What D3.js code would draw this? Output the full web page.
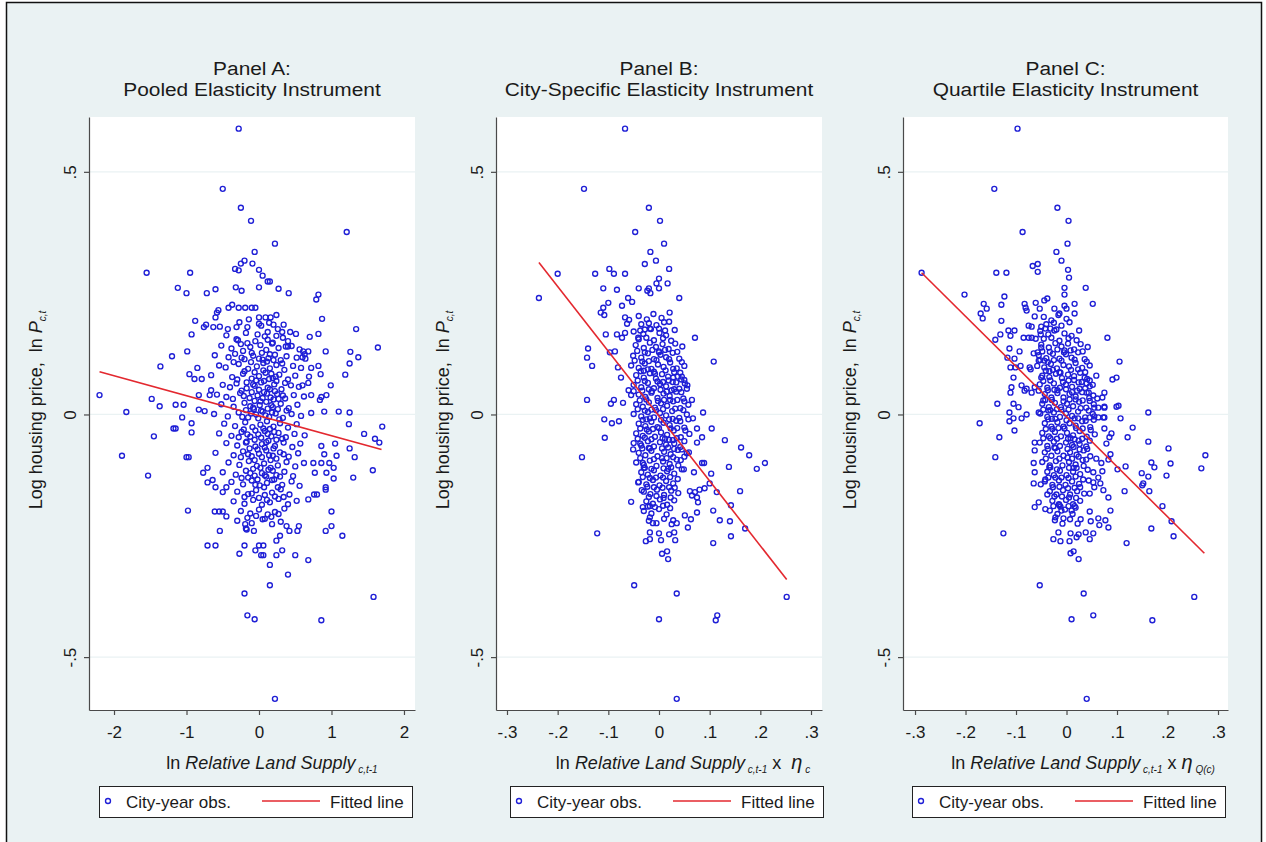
<!DOCTYPE html>
<html>
<head>
<meta charset="utf-8">
<script src="https://cdn.jsdelivr.net/npm/d3@7"></script>
<style>
body { margin: 0; background: #ffffff; }
svg text { font-family: "Liberation Sans", Arial, sans-serif; fill: #1a1a1a; }
</style>
</head>
<body>
<script>
var width = 1266;
var height = 842;

// tick values and labels
var yTicks = [-0.5, 0, 0.5];
var yTickLabels = ["-.5", "0", ".5"];
var xTicksA = [-2, -1, 0, 1, 2];
var xTickLabelsA = ["-2", "-1", "0", "1", "2"];
var xTicksBC = [-0.3, -0.2, -0.1, 0, 0.1, 0.2, 0.3];
var xTickLabelsBC = ["-.3", "-.2", "-.1", "0", ".1", ".2", ".3"];

var titleA = ["Panel A:", "Pooled Elasticity Instrument"];
var titleB = ["Panel B:", "City-Specific Elasticity Instrument"];
var titleC = ["Panel C:", "Quartile Elasticity Instrument"];
var legendLabels = ["City-year obs.", "Fitted line"];

// fitted lines: [x, ln P] at both ends
var fitA = [[-2.2, 0.088], [1.69, -0.072]];
var fitB = [[-0.237, 0.313], [0.252, -0.34]];
var fitC = [[-0.287, 0.292], [0.273, -0.286]];

// city-year observations, panel A: [ln relative land supply, ln P]
var obsA = [
 [-0.28,0.589],[-0.50,0.465],[-0.25,0.426],[-0.11,0.399],[1.21,0.376],[0.22,0.352],[-0.06,0.335],
 [-1.55,0.292],[-0.95,0.292],[-0.20,0.317],[-0.25,0.311],[-0.09,0.311],[-0.33,0.30],[-0.28,0.297],[0.0,0.298],[0.05,0.286],[0.12,0.274],[0.15,0.274],
 [-1.12,0.261],[-0.6,0.258],[-0.72,0.25],[-0.32,0.262],[-0.24,0.255],[0.0,0.262],[0.27,0.259],[-1.0,0.25],[0.41,0.25],[0.82,0.247],[0.79,0.237],
 [-0.93,0.165],[-0.88,0.193],[-0.76,0.18],[-0.73,0.185],[-0.63,0.18],[-0.54,0.181],[-0.43,0.176],[-0.6,0.2],[-0.58,0.21],[-0.56,0.215],
 [-0.42,0.22],[-0.37,0.226],[-0.28,0.22],[-0.19,0.22],[-0.1,0.22],[-0.05,0.22],[0.0,0.2],[0.09,0.2],[0.16,0.2],[0.24,0.205],
 [0.34,0.185],[0.32,0.17],[0.43,0.17],[0.0,0.187],[0.12,0.17],[0.2,0.185],[-0.16,0.18],[-0.31,0.18],[0.7,0.16],[0.82,0.166],[0.87,0.197],
 [1.34,0.176],[1.64,0.138],[1.26,0.129],[1.37,0.118],[1.25,0.105],[1.19,0.082],[0.92,0.13],[0.99,0.06],
 [-1.2,0.12],[-1.36,0.099],[-0.99,0.13],[-0.85,0.096],[-0.96,0.083],[-0.89,0.073],[-0.79,0.073],
 [-2.2,0.04],[-1.48,0.032],[-1.37,0.017],[-1.15,0.02],[-1.04,0.02],[-1.83,0.005],[-0.83,0.04],[-0.68,0.04],[-0.66,0.05],[-0.83,0.01],[-0.75,0.007],
 [0.61,0.13],[0.68,0.13],[0.6,0.118],[0.64,0.115],[0.72,0.096],[0.82,0.1],[0.85,0.083],[0.68,0.065],[0.6,0.06],[0.72,0.04],[0.86,0.036],[0.93,0.04],[0.84,0.03],
 [0.9,0.006],[1.1,0.006],[1.25,0.004],[0.37,0.14],[0.4,0.14],
 [-1.89,-0.085],[-1.45,-0.045],[-1.53,-0.126],[-1.18,-0.029],[-1.15,-0.029],[-1.06,-0.006],[-0.93,-0.018],[-0.93,-0.037],[-1.0,-0.088],[-0.97,-0.088],[-0.98,-0.198],
 [-0.77,-0.12],[-0.71,-0.14],[-0.64,-0.135],[-0.71,-0.11],[-0.6,-0.15],[-0.5,-0.16],[-0.45,-0.15],[-0.61,-0.2],[-0.55,-0.2],[-0.5,-0.2],[-0.45,-0.21],[-0.54,-0.24],[-0.71,-0.27],[-0.6,-0.27],
 [-0.27,-0.287],[-0.2,-0.27],[-0.18,-0.235],[-0.17,-0.237],[-0.19,-0.226],[-0.07,-0.24],[-0.05,-0.28],[0.0,-0.27],[0.06,-0.27],[0.03,-0.29],[0.06,-0.29],[0.15,-0.31],[0.24,-0.26],[0.24,-0.29],[0.32,-0.28],[0.4,-0.33],[0.5,-0.29],[0.68,-0.3],[0.53,-0.24],[0.42,-0.24],[0.29,-0.25],[0.38,-0.23],[0.55,-0.23],
 [0.15,-0.352],[-0.2,-0.369],[-0.16,-0.414],[-0.06,-0.422],[0.86,-0.424],[1.58,-0.376],[0.22,-0.586],
 [1.0,-0.2],[1.0,-0.23],[0.92,-0.24],[1.15,-0.25],[0.92,-0.15],[0.92,-0.155],[0.8,-0.165],[0.76,-0.165],[0.68,-0.175],[1.03,-0.132],[1.3,-0.13],[0.93,-0.12],[1.03,-0.11],[0.97,-0.1],[1.57,-0.115],[1.32,-0.088],[1.07,-0.085],[0.9,-0.082],[1.25,-0.07],[1.05,-0.06],[0.86,-0.065],[1.45,-0.04],[1.6,-0.05],[1.66,-0.058],[1.7,-0.025],[1.24,-0.02],[0.75,-0.1],[0.77,-0.12],[0.86,-0.1],
 [-0.45,0.163],[-0.31,0.155],[-0.18,0.168],[-0.05,0.151],[0.08,0.161],[0.19,0.148],[0.33,0.158],[0.51,0.166],
 [-0.52,0.142],[-0.38,0.136],[-0.25,0.145],[-0.12,0.139],[0.02,0.143],[0.1,0.133],[0.18,0.146],[0.27,0.137],[0.45,0.141],[0.56,0.134],
 [-0.61,0.122],[-0.42,0.118],[-0.33,0.125],[-0.2,0.114],[-0.08,0.121],[0.04,0.127],[0.13,0.116],[0.22,0.123],[0.3,0.112],[0.38,0.12],[0.52,0.117],[0.63,0.124],
 [-0.55,0.101],[-0.46,0.097],[-0.28,0.104],[-0.15,0.094],[-0.03,0.099],[0.06,0.106],[0.15,0.095],[0.24,0.102],[0.35,0.092],[0.47,0.1],[0.58,0.096],
 [-0.66,0.081],[-0.37,0.077],[-0.22,0.084],[-0.1,0.074],[0.0,0.079],[0.09,0.086],[0.19,0.075],[0.28,0.082],[0.4,0.072],[0.5,0.08],[0.69,0.078],
 [-0.5,0.061],[-0.4,0.056],[-0.31,0.064],[-0.17,0.054],[-0.06,0.059],[0.03,0.066],[0.12,0.055],[0.21,0.062],[0.31,0.052],[0.44,0.06],[0.55,0.057],
 [-0.58,0.041],[-0.45,0.036],[-0.26,0.044],[-0.13,0.034],[-0.02,0.039],[0.07,0.046],[0.16,0.035],[0.25,0.042],[0.36,0.033],[0.48,0.04],[0.62,0.037],
 [-0.52,0.021],[-0.35,0.016],[-0.2,0.024],[-0.08,0.014],[0.01,0.019],[0.1,0.026],[0.19,0.015],[0.3,0.022],[0.41,0.013],[0.53,0.02],
 [-0.62,0.001],[-0.43,-0.004],[-0.28,0.004],[-0.15,-0.006],[-0.04,0.0],[0.05,0.006],[0.14,-0.005],[0.23,0.002],[0.33,-0.007],[0.45,0.001],[0.58,-0.003],[0.72,0.003],
 [-0.48,-0.019],[-0.33,-0.024],[-0.19,-0.016],[-0.09,-0.026],[0.02,-0.021],[0.11,-0.014],[0.2,-0.025],[0.29,-0.018],[0.4,-0.027],[0.52,-0.02],
 [-0.55,-0.039],[-0.38,-0.044],[-0.24,-0.036],[-0.12,-0.046],[-0.01,-0.041],[0.08,-0.034],[0.17,-0.045],[0.27,-0.038],[0.37,-0.047],[0.49,-0.04],[0.63,-0.043],
 [-0.45,-0.059],[-0.3,-0.064],[-0.17,-0.056],[-0.05,-0.066],[0.04,-0.061],[0.13,-0.054],[0.22,-0.065],[0.34,-0.058],[0.46,-0.067],[0.57,-0.06],
 [-0.6,-0.079],[-0.35,-0.084],[-0.22,-0.076],[-0.1,-0.086],[0.0,-0.081],[0.1,-0.074],[0.19,-0.085],[0.29,-0.078],[0.41,-0.087],[0.54,-0.08],
 [-0.42,-0.099],[-0.27,-0.104],[-0.14,-0.096],[-0.03,-0.106],[0.07,-0.101],[0.16,-0.094],[0.26,-0.105],[0.38,-0.098],[0.5,-0.107],[0.62,-0.1],
 [-0.5,-0.119],[-0.32,-0.124],[-0.18,-0.116],[-0.06,-0.126],[0.04,-0.121],[0.13,-0.114],[0.24,-0.125],[0.35,-0.118],[0.47,-0.127],
 [-0.38,-0.139],[-0.22,-0.144],[-0.1,-0.136],[0.01,-0.146],[0.11,-0.141],[0.21,-0.134],[0.32,-0.145],[0.45,-0.138],[0.56,-0.147],
 [-0.3,-0.159],[-0.15,-0.164],[-0.04,-0.156],[0.08,-0.166],[0.18,-0.161],[0.3,-0.154],[0.42,-0.165],
 [-0.35,-0.179],[-0.2,-0.184],[-0.08,-0.176],[0.04,-0.186],[0.15,-0.181],[0.27,-0.174],[0.4,-0.185],[0.52,-0.178],
 [-0.25,-0.199],[-0.12,-0.204],[0.0,-0.196],[0.12,-0.206],[0.22,-0.201],[0.35,-0.194],
 [-0.3,-0.219],[-0.1,-0.224],[0.05,-0.216],[0.18,-0.226],[0.3,-0.221],
 [-0.22,0.131],[-0.1,0.127],[0.05,0.113],[0.15,0.124],[-0.2,0.089],[-0.06,0.087],[0.06,0.091],[0.17,0.084],[0.24,0.069],
 [-0.24,0.049],[-0.1,0.046],[0.0,0.051],[0.11,0.043],[0.2,0.031],[-0.18,0.009],[-0.07,0.011],[0.03,0.008],[0.12,0.012],[0.26,0.011],
 [-0.21,-0.031],[-0.05,-0.033],[0.06,-0.029],[0.15,-0.03],[0.24,-0.052],[-0.13,-0.07],[-0.02,-0.072],[0.08,-0.068],[0.2,-0.07],
 [-0.08,-0.112],[0.02,-0.11],[0.1,-0.128],[0.19,-0.116],[-0.15,-0.13],[0.07,-0.15],
 [-0.27,0.19],[-0.14,0.196],[0.03,0.183],[0.14,0.189],[0.26,0.176],
 [-0.29,0.153],[-0.16,0.147],[-0.02,0.165],[0.12,0.154],[0.24,0.162],[0.4,0.151],
 [-0.35,0.108],[-0.24,0.117],[-0.11,0.108],[0.0,0.115],[0.11,0.109],[0.2,0.112],[0.32,0.105],
 [-0.3,0.072],[-0.17,0.066],[-0.04,0.07],[0.07,0.069],[0.14,0.073],[0.23,0.078],[0.36,0.065],
 [-0.36,0.032],[-0.21,0.038],[-0.06,0.028],[0.05,0.034],[0.15,0.052],[0.22,0.048],[0.33,0.039],
 [-0.23,-0.005],[-0.11,0.002],[-0.01,-0.008],[0.09,-0.002],[0.18,0.004],[0.28,-0.01],[0.38,0.008],
 [-0.28,-0.047],[-0.16,-0.041],[-0.06,-0.052],[0.03,-0.048],[0.12,-0.04],[0.21,-0.036],[0.32,-0.05],
 [-0.25,-0.088],[-0.15,-0.082],[-0.06,-0.094],[0.04,-0.088],[0.14,-0.084],[0.24,-0.091],[0.34,-0.082],
 [-0.24,-0.131],[-0.12,-0.121],[-0.02,-0.134],[0.08,-0.125],[0.18,-0.135],[0.29,-0.128],
 [-0.2,-0.17],[-0.1,-0.163],[0.0,-0.172],[0.11,-0.176],[0.22,-0.169],[0.34,-0.17],
 [-0.16,-0.213],[-0.04,-0.209],[0.08,-0.215],[0.17,-0.211],[0.27,-0.205],
 [-0.08,0.062],[0.02,0.027],[-0.12,0.017],[0.17,0.019],[0.27,0.032],[-0.18,-0.058],[0.1,-0.057],[0.16,-0.11],[-0.05,-0.145],[0.26,-0.15]
];

// panel B: [ln relative land supply x eta_c, ln P]
var obsB = [
 [-0.067,0.589],[-0.148,0.465],[-0.02,0.426],[0.002,0.399],[-0.047,0.376],[0.01,0.352],[-0.017,0.335],
 [-0.028,0.31],[-0.006,0.317],[-0.098,0.3],[-0.089,0.29],[-0.067,0.29],[-0.126,0.29],[-0.2,0.29],[0.02,0.3],[0.0,0.28],[-0.005,0.27],[0.017,0.27],
 [-0.237,0.24],[-0.11,0.26],[-0.083,0.257],[-0.04,0.26],[-0.02,0.26],[-0.017,0.25],[-0.023,0.255],[0.0,0.26],[0.04,0.24],
 [-0.1,0.23],[-0.11,0.22],[-0.115,0.21],[-0.108,0.205],[-0.073,0.224],[-0.061,0.24],[-0.053,0.232],
 [-0.105,0.165],[-0.083,0.165],[-0.073,0.158],[-0.067,0.168],[-0.063,0.187],[-0.067,0.2],[-0.059,0.195],
 [-0.041,0.158],[-0.037,0.173],[-0.028,0.175],[-0.018,0.177],[0.0,0.177],[0.012,0.173],[0.02,0.191],
 [0.071,0.158],[0.108,0.109],
 [-0.14,0.136],[-0.142,0.117],[-0.132,0.1],[-0.142,0.03],
 [-0.097,0.128],[-0.087,0.13],[-0.081,0.097],[-0.075,0.076],
 [-0.095,0.022],[-0.089,0.03],[-0.071,0.024],[-0.06,0.05],[-0.055,0.04],[-0.05,0.048],
 [0.028,0.076],[0.037,0.078],[0.045,0.078],[0.051,0.064],[0.055,0.053],
 [0.065,0.03],[0.087,0.004],[0.067,-0.008],
 [-0.152,-0.088],[-0.108,-0.01],[-0.107,-0.048],[-0.093,-0.018],[-0.079,-0.014],
 [-0.122,-0.245],[-0.049,-0.352],[-0.055,-0.18],[0.035,-0.369],[0.0,-0.422],[0.112,-0.424],[0.115,-0.414],[0.252,-0.376],[0.035,-0.586],
 [0.006,-0.287],[0.016,-0.282],[0.018,-0.298],
 [-0.026,-0.261],[-0.018,-0.257],[-0.018,-0.243],[0.0,-0.245],[0.004,-0.259],[0.02,-0.247],[0.03,-0.243],[0.032,-0.259],
 [0.028,-0.218],[0.035,-0.224],[0.051,-0.208],[0.063,-0.216],[0.057,-0.233],[0.075,-0.202],
 [0.107,-0.265],[0.107,-0.198],[0.12,-0.218],[0.14,-0.22],[0.142,-0.251],[0.17,-0.235],[0.16,-0.158],[0.142,-0.187],
 [0.209,-0.1],[0.193,-0.112],[0.178,-0.084],[0.162,-0.068],[0.138,-0.108],[0.13,-0.053],
 [0.104,-0.029],[0.085,-0.047],[0.075,-0.029],[0.075,-0.058],
 [0.114,-0.16],[0.103,-0.122],[0.1,-0.142],[0.09,-0.152],[0.08,-0.155],[0.077,-0.181],[0.075,-0.171],[0.071,-0.16],[0.065,-0.167],[0.061,-0.158],
 [0.085,-0.1],[0.089,-0.1],[0.069,-0.119],[0.049,-0.113],[0.055,-0.08],[0.059,-0.078],
 [-0.051,-0.072],[-0.037,-0.06],[-0.032,-0.1],[-0.041,-0.14],[-0.034,-0.156],[-0.032,-0.191],[-0.018,-0.212],[-0.012,-0.224],[-0.018,-0.189],
 [-0.04,0.203],[-0.024,0.196],[-0.011,0.207],[0.005,0.199],[0.021,0.21],
 [-0.05,0.171],[-0.031,0.166],[-0.016,0.176],[0.001,0.168],[0.014,0.163],[0.031,0.174],
 [-0.046,0.143],[-0.03,0.137],[-0.018,0.148],[-0.006,0.139],[0.007,0.145],[0.019,0.135],[0.032,0.146],[0.046,0.14],
 [-0.051,0.121],[-0.035,0.117],[-0.022,0.126],[-0.01,0.114],[0.003,0.123],[0.014,0.118],[0.027,0.127],[0.04,0.115],
 [-0.055,0.101],[-0.04,0.096],[-0.028,0.105],[-0.015,0.094],[-0.002,0.103],[0.009,0.098],[0.022,0.107],[0.035,0.095],[0.05,0.1],
 [-0.045,0.081],[-0.03,0.076],[-0.018,0.085],[-0.006,0.074],[0.006,0.083],[0.018,0.078],[0.03,0.087],[0.044,0.072],
 [-0.05,0.061],[-0.035,0.056],[-0.022,0.065],[-0.01,0.054],[0.002,0.063],[0.014,0.058],[0.027,0.067],[0.04,0.053],[0.056,0.06],
 [-0.04,0.041],[-0.027,0.036],[-0.015,0.045],[-0.003,0.034],[0.009,0.043],[0.021,0.038],[0.034,0.047],[0.048,0.033],
 [-0.045,0.021],[-0.032,0.016],[-0.02,0.025],[-0.008,0.014],[0.004,0.023],[0.016,0.018],[0.028,0.027],[0.042,0.013],[0.058,0.02],
 [-0.05,0.001],[-0.035,-0.004],[-0.022,0.005],[-0.01,-0.006],[0.002,0.003],[0.014,-0.002],[0.026,0.007],[0.04,-0.007],[0.055,0.0],
 [-0.04,-0.019],[-0.027,-0.024],[-0.015,-0.015],[-0.003,-0.026],[0.009,-0.017],[0.021,-0.022],[0.034,-0.013],[0.05,-0.027],
 [-0.045,-0.039],[-0.032,-0.044],[-0.02,-0.035],[-0.008,-0.046],[0.004,-0.037],[0.016,-0.042],[0.029,-0.033],[0.043,-0.047],[0.06,-0.04],
 [-0.05,-0.059],[-0.035,-0.064],[-0.022,-0.055],[-0.01,-0.066],[0.002,-0.057],[0.014,-0.062],[0.027,-0.053],[0.042,-0.067],
 [-0.04,-0.079],[-0.027,-0.084],[-0.015,-0.075],[-0.003,-0.086],[0.01,-0.077],[0.023,-0.082],[0.037,-0.073],[0.05,-0.087],
 [-0.045,-0.099],[-0.03,-0.104],[-0.018,-0.095],[-0.005,-0.106],[0.008,-0.097],[0.021,-0.102],[0.035,-0.093],
 [-0.035,-0.119],[-0.022,-0.124],[-0.01,-0.115],[0.003,-0.126],[0.016,-0.117],[0.03,-0.122],[0.045,-0.113],
 [-0.04,-0.139],[-0.025,-0.144],[-0.012,-0.135],[0.001,-0.146],[0.014,-0.137],[0.028,-0.142],
 [-0.03,-0.159],[-0.017,-0.164],[-0.004,-0.155],[0.01,-0.166],[0.024,-0.157],[0.038,-0.162],
 [-0.025,-0.179],[-0.012,-0.184],[0.002,-0.175],[0.016,-0.186],[0.03,-0.177],
 [-0.03,-0.199],[-0.015,-0.204],[0.0,-0.195],[0.015,-0.206],
 [-0.02,-0.219],[-0.005,-0.224],[0.01,-0.215],[0.025,-0.226],
 [-0.02,0.11],[-0.008,0.084],[0.008,0.067],[-0.014,0.048],[0.01,0.03],[-0.006,0.009],[0.02,-0.01],[-0.012,-0.03],[0.012,-0.05],[-0.018,-0.07],
 [0.006,-0.09],[0.018,-0.112],[-0.006,-0.13],[0.02,-0.15],[0.0,0.13],[0.025,0.05],[-0.03,0.09],[-0.025,-0.01],[0.03,-0.06],[-0.03,-0.11],
 [-0.035,0.186],[-0.02,0.188],[-0.005,0.184],[0.01,0.19],
 [-0.04,0.155],[-0.025,0.158],[-0.01,0.153],[0.008,0.157],[0.024,0.152],
 [-0.043,0.131],[-0.028,0.128],[-0.013,0.133],[0.0,0.128],[0.012,0.133],[0.036,0.129],
 [-0.048,0.111],[-0.033,0.109],[-0.005,0.112],[0.02,0.114],[0.045,0.108],
 [-0.036,0.089],[-0.022,0.093],[-0.01,0.088],[0.013,0.091],[0.028,0.094],[0.042,0.086],
 [-0.042,0.07],[-0.028,0.069],[-0.003,0.068],[0.019,0.07],[0.034,0.066],[0.05,0.071],
 [-0.033,0.049],[-0.02,0.052],[0.003,0.051],[0.015,0.047],[0.03,0.052],[0.044,0.046],
 [-0.038,0.029],[-0.025,0.031],[-0.002,0.028],[0.022,0.03],[0.036,0.03],[0.05,0.027],
 [-0.042,0.011],[-0.028,0.008],[-0.015,0.01],[0.008,0.011],[0.032,0.012],[0.048,0.009],
 [-0.032,-0.011],[-0.018,-0.008],[0.004,-0.011],[0.027,-0.009],[0.042,-0.014],[0.058,-0.01],
 [-0.037,-0.029],[-0.024,-0.031],[0.0,-0.028],[0.023,-0.029],[0.036,-0.028],[0.052,-0.033],
 [-0.042,-0.05],[-0.028,-0.048],[-0.015,-0.051],[0.007,-0.049],[0.02,-0.052],[0.035,-0.049],[0.05,-0.055],
 [-0.033,-0.07],[-0.02,-0.069],[0.006,-0.07],[0.018,-0.068],[0.03,-0.071],[0.045,-0.072],
 [-0.037,-0.09],[-0.01,-0.092],[0.015,-0.09],[0.028,-0.088],[0.043,-0.094],
 [-0.028,-0.11],[-0.015,-0.112],[0.009,-0.111],[0.024,-0.109],[0.038,-0.105],
 [-0.032,-0.129],[-0.018,-0.131],[0.008,-0.13],[0.022,-0.129],[0.037,-0.133],
 [-0.023,-0.149],[-0.01,-0.15],[0.007,-0.151],[0.031,-0.151],
 [-0.02,-0.17],[-0.005,-0.168],[0.009,-0.172],[0.023,-0.171],
 [-0.022,-0.19],[-0.008,-0.191],[0.008,-0.188],[0.022,-0.193]
];

// panel C: [ln relative land supply x eta_Q(c), ln P]
var obsC = [
 [-0.097,0.589],[-0.143,0.465],[-0.018,0.426],[0.004,0.399],[-0.087,0.376],[0.002,0.352],[-0.02,0.335],[-0.01,0.317],
 [-0.067,0.306],[-0.057,0.31],[-0.057,0.294],[-0.139,0.292],[-0.119,0.292],[-0.287,0.292],[0.003,0.298],[0.005,0.282],
 [-0.004,0.261],[-0.004,0.247],[0.038,0.261],[0.052,0.228],[0.081,0.158],[0.105,0.109],[0.099,0.076],[0.091,0.072],
 [-0.202,0.247],[-0.123,0.243],[-0.129,0.226],[-0.164,0.228],[-0.158,0.218],[-0.17,0.208],[-0.166,0.198],
 [-0.129,0.193],[-0.141,0.154],[-0.131,0.165],[-0.115,0.173],[-0.111,0.162],[-0.103,0.173],
 [-0.113,0.136],[-0.093,0.13],[-0.117,0.117],[-0.103,0.115],
 [-0.111,0.097],[-0.101,0.097],[-0.091,0.1],[-0.105,0.076],
 [-0.109,0.056],[-0.111,0.045],[-0.089,0.06],[-0.083,0.049],[-0.079,0.053],
 [-0.137,0.022],[-0.105,0.022],[-0.113,0.004],[-0.095,0.015],
 [-0.083,0.228],[-0.081,0.22],[-0.079,0.214],[-0.061,0.23],[-0.053,0.218],[-0.044,0.235],[-0.038,0.239],
 [-0.085,0.158],[-0.075,0.158],[-0.069,0.158],[-0.061,0.156],[-0.051,0.165],
 [-0.075,0.183],[-0.069,0.181],[-0.063,0.202],[-0.05,0.181],[-0.042,0.177],[-0.032,0.177],[-0.024,0.173],
 [-0.024,0.218],[-0.014,0.208],[-0.004,0.224],[0.0,0.218],[0.016,0.228],
 [-0.05,0.138],[-0.057,0.128],[-0.055,0.111],[-0.065,0.126],[-0.044,0.111],
 [-0.073,0.097],[-0.071,0.093],[-0.05,0.076],[-0.063,0.056],[-0.055,0.049],[-0.069,0.045],
 [-0.046,0.029],[-0.055,0.004],[-0.036,0.008],
 [0.044,0.045],[0.053,0.039],[0.061,0.033],[0.071,0.035],[0.075,0.045],[0.055,0.014],[0.075,0.014],[0.103,0.018],[0.107,-0.008],[0.162,0.004],[0.075,-0.006],[0.063,-0.006],[0.046,-0.006],
 [0.059,0.08],[0.046,0.058],[0.04,0.064],[0.036,0.076],
 [-0.172,-0.018],[-0.133,-0.047],[-0.141,-0.088],[-0.125,-0.245],
 [-0.103,-0.033],[-0.113,-0.014],[-0.105,-0.008],[-0.089,-0.008],[-0.079,0.0],
 [-0.053,-0.352],[0.034,-0.369],[0.01,-0.422],[0.053,-0.414],[0.17,-0.424],[0.253,-0.376],[0.04,-0.586],
 [-0.063,-0.058],[-0.063,-0.074],[-0.065,-0.1],[-0.063,-0.119],[-0.065,-0.142],[-0.051,-0.144],[-0.042,-0.134],[-0.038,-0.165],[-0.055,-0.181],[-0.063,-0.191],[-0.042,-0.195],
 [-0.022,-0.212],[-0.016,-0.243],[-0.026,-0.257],[-0.012,-0.261],[0.006,-0.261],[0.008,-0.245],[0.024,-0.247],[0.02,-0.253],[0.038,-0.243],[0.046,-0.257],[0.053,-0.245],[0.024,-0.298],[0.014,-0.282],[0.008,-0.286],
 [-0.014,-0.187],[-0.01,-0.198],[-0.006,-0.214],[0.01,-0.198],[0.016,-0.189],[0.028,-0.216],[0.046,-0.2],[0.048,-0.22],[0.063,-0.214],[0.065,-0.228],[0.077,-0.218],[0.083,-0.233],[0.087,-0.198],
 [0.115,-0.158],[0.119,-0.265],[0.117,-0.107],[0.101,-0.113],[0.162,-0.056],[0.168,-0.099],[0.174,-0.109],[0.164,-0.158],[0.149,-0.121],[0.162,-0.128],[0.15,-0.146],[0.152,-0.142],
 [0.19,-0.189],[0.198,-0.126],[0.202,-0.07],[0.206,-0.101],[0.208,-0.22],[0.212,-0.251],[0.267,-0.111],[0.275,-0.084],[0.168,-0.235],
 [0.131,-0.027],[0.121,-0.047],[0.099,0.016],[0.089,-0.039],[0.085,-0.047],[0.079,-0.06],[0.075,-0.029],[0.073,-0.006],[0.055,-0.004],[0.063,0.014],[0.075,0.016],
 [0.087,-0.082],[0.083,-0.093],[0.069,-0.1],[0.059,-0.091],[0.071,-0.117],[0.063,-0.13],[0.053,-0.119],[0.073,-0.156],[0.083,-0.171],[0.055,-0.15],[0.046,-0.163],[0.067,-0.142],[0.053,-0.14],[0.044,-0.136],
 [-0.045,0.201],[-0.03,0.194],[-0.016,0.205],[0.0,0.197],[0.016,0.208],
 [-0.052,0.172],[-0.036,0.165],[-0.02,0.175],[-0.004,0.167],[0.01,0.162],[0.025,0.173],
 [-0.05,0.144],[-0.035,0.138],[-0.022,0.147],[-0.01,0.14],[0.003,0.146],[0.015,0.134],[0.028,0.145],[0.042,0.139],
 [-0.055,0.122],[-0.04,0.116],[-0.027,0.125],[-0.014,0.115],[-0.001,0.124],[0.01,0.117],[0.023,0.128],[0.036,0.114],
 [-0.058,0.1],[-0.044,0.097],[-0.031,0.104],[-0.019,0.095],[-0.006,0.102],[0.005,0.099],[0.018,0.106],[0.031,0.096],[0.046,0.101],
 [-0.048,0.08],[-0.034,0.077],[-0.021,0.084],[-0.009,0.075],[0.003,0.082],[0.015,0.079],[0.027,0.086],[0.041,0.073],
 [-0.053,0.062],[-0.038,0.055],[-0.025,0.064],[-0.013,0.055],[-0.001,0.062],[0.011,0.057],[0.024,0.066],[0.037,0.054],[0.052,0.061],
 [-0.043,0.042],[-0.03,0.035],[-0.018,0.044],[-0.006,0.035],[0.006,0.042],[0.018,0.037],[0.031,0.046],[0.045,0.034],
 [-0.048,0.022],[-0.035,0.015],[-0.023,0.024],[-0.011,0.015],[0.001,0.022],[0.013,0.017],[0.025,0.026],[0.039,0.014],[0.054,0.021],
 [-0.052,0.002],[-0.038,-0.005],[-0.025,0.004],[-0.013,-0.005],[-0.001,0.002],[0.011,-0.003],[0.023,0.006],[0.037,-0.006],[0.052,0.001],
 [-0.043,-0.018],[-0.03,-0.025],[-0.018,-0.016],[-0.006,-0.025],[0.006,-0.018],[0.018,-0.023],[0.031,-0.014],[0.047,-0.026],
 [-0.048,-0.038],[-0.035,-0.045],[-0.023,-0.036],[-0.011,-0.045],[0.001,-0.038],[0.013,-0.043],[0.026,-0.034],[0.04,-0.046],[0.056,-0.041],
 [-0.053,-0.058],[-0.038,-0.065],[-0.025,-0.056],[-0.013,-0.065],[-0.001,-0.058],[0.011,-0.063],[0.024,-0.054],[0.039,-0.066],
 [-0.043,-0.078],[-0.03,-0.085],[-0.018,-0.076],[-0.006,-0.085],[0.007,-0.078],[0.02,-0.083],[0.034,-0.074],[0.047,-0.086],
 [-0.048,-0.098],[-0.033,-0.105],[-0.021,-0.096],[-0.008,-0.105],[0.005,-0.098],[0.018,-0.103],[0.032,-0.094],
 [-0.038,-0.118],[-0.025,-0.125],[-0.013,-0.116],[0.0,-0.125],[0.013,-0.118],[0.027,-0.123],[0.042,-0.114],
 [-0.043,-0.138],[-0.028,-0.145],[-0.015,-0.136],[-0.002,-0.145],[0.011,-0.138],[0.025,-0.143],
 [-0.033,-0.158],[-0.02,-0.165],[-0.007,-0.156],[0.007,-0.165],[0.021,-0.158],[0.035,-0.163],
 [-0.028,-0.178],[-0.015,-0.185],[-0.001,-0.176],[0.013,-0.185],[0.027,-0.178],
 [-0.033,-0.198],[-0.018,-0.205],[-0.003,-0.196],[0.012,-0.205],
 [-0.023,-0.218],[-0.008,-0.225],[0.007,-0.216],[0.022,-0.225],
 [-0.025,0.112],[-0.012,0.086],[0.004,0.07],[-0.018,0.05],[0.006,0.031],[-0.01,0.01],[0.016,-0.008],[-0.016,-0.028],[0.008,-0.049],[-0.022,-0.069],
 [0.002,-0.089],[0.014,-0.11],[-0.01,-0.13],[0.016,-0.151],[-0.004,0.132],[0.021,0.049],[-0.034,0.089],[-0.029,-0.009],[0.026,-0.061],[-0.034,-0.109],
 [-0.04,0.186],[-0.025,0.189],[-0.01,0.183],[0.006,0.19],
 [-0.045,0.156],[-0.03,0.158],[-0.014,0.152],[0.004,0.157],[0.02,0.153],
 [-0.048,0.13],[-0.033,0.129],[-0.018,0.134],[-0.005,0.128],[0.008,0.132],[0.032,0.13],
 [-0.052,0.112],[-0.037,0.108],[-0.01,0.111],[0.016,0.113],[0.04,0.109],
 [-0.041,0.09],[-0.027,0.092],[-0.014,0.087],[0.009,0.092],[0.023,0.093],[0.037,0.087],
 [-0.046,0.069],[-0.032,0.07],[-0.007,0.067],[0.015,0.071],[0.03,0.067],[0.046,0.07],
 [-0.037,0.05],[-0.024,0.051],[-0.001,0.052],[0.011,0.046],[0.026,0.053],[0.04,0.045],
 [-0.042,0.03],[-0.029,0.03],[-0.006,0.027],[0.018,0.031],[0.032,0.029],[0.046,0.028],
 [-0.046,0.01],[-0.032,0.009],[-0.019,0.011],[0.004,0.01],[0.028,0.013],[0.044,0.008],
 [-0.036,-0.01],[-0.022,-0.009],[0.0,-0.012],[0.023,-0.008],[0.038,-0.013],[0.054,-0.011],
 [-0.041,-0.03],[-0.028,-0.03],[-0.004,-0.029],[0.019,-0.028],[0.032,-0.029],[0.048,-0.032],
 [-0.046,-0.049],[-0.032,-0.049],[-0.019,-0.05],[0.003,-0.05],[0.016,-0.051],[0.031,-0.05],[0.046,-0.054],
 [-0.037,-0.071],[-0.024,-0.068],[0.002,-0.071],[0.014,-0.067],[0.026,-0.072],[0.041,-0.071],
 [-0.041,-0.091],[-0.014,-0.091],[0.011,-0.091],[0.024,-0.087],[0.039,-0.093],
 [-0.032,-0.109],[-0.019,-0.113],[0.005,-0.11],[0.02,-0.11],[0.034,-0.106],
 [-0.036,-0.13],[-0.022,-0.13],[0.004,-0.131],[0.018,-0.128],[0.033,-0.134],
 [-0.027,-0.15],[-0.014,-0.149],[0.003,-0.152],[0.027,-0.15],
 [-0.024,-0.169],[-0.009,-0.169],[0.005,-0.171],[0.019,-0.172],
 [-0.026,-0.189],[-0.012,-0.19],[0.004,-0.189],[0.018,-0.192]
];

var markerColor = "#1f1fd6";
var fitColor = "#e3282f";
var bgColor = "#eaf2f3";

//layout of each panel (pixel box of plot region, label positions)
var panels = [
    {left: 89,  right: 415,  xDomain: [-2.345, 2.152], ticks: xTicksA,  tickLabels: xTickLabelsA,  obs: obsA, fit: fitA, title: titleA, xLabelX: 272,  eta: null, legendX: 99},
    {left: 496, right: 822,  xDomain: [-0.3217, 0.3217], ticks: xTicksBC, tickLabels: xTickLabelsBC, obs: obsB, fit: fitB, title: titleB, xLabelX: 683,  eta: "c", legendX: 510},
    {left: 903, right: 1228, xDomain: [-0.3238, 0.3198], ticks: xTicksBC, tickLabels: xTickLabelsBC, obs: obsC, fit: fitC, title: titleC, xLabelX: 1083, eta: "Q(c)", legendX: 912}
];
var plotTop = 117, plotBottom = 710;

var y = d3.scaleLinear().domain([-0.609, 0.613]).range([plotBottom, plotTop]);

var svg = d3.select("body").append("svg")
    .attr("width", width)
    .attr("height", height);

//outer frame of the combined graph
svg.append("rect")
    .attr("x", 6.5).attr("y", 2.5)
    .attr("width", 1255).attr("height", 860)
    .attr("fill", bgColor)
    .attr("stroke", "#111").attr("stroke-width", 1.5);

function drawPanel(p){
    var x = d3.scaleLinear().domain(p.xDomain).range([p.left, p.right]);
    var g = svg.append("g");
    var cx = (p.left + p.right) / 2;

    //white plot region
    g.append("rect")
        .attr("x", p.left).attr("y", plotTop)
        .attr("width", p.right - p.left).attr("height", plotBottom - plotTop)
        .attr("fill", "#ffffff");

    //horizontal grid lines
    g.selectAll(".grid").data(yTicks).enter().append("line")
        .attr("class", "grid")
        .attr("x1", p.left).attr("x2", p.right)
        .attr("y1", function(d){ return y(d); })
        .attr("y2", function(d){ return y(d); })
        .attr("stroke", bgColor).attr("stroke-width", 1.2);

    //axes
    var yAxis = d3.axisLeft(y).tickValues(yTicks).tickSize(5).tickSizeOuter(0)
        .tickFormat(function(d, i){ return yTickLabels[i]; });
    var xAxis = d3.axisBottom(x).tickValues(p.ticks).tickSize(5).tickSizeOuter(0)
        .tickFormat(function(d, i){ return p.tickLabels[i]; });

    var ya = g.append("g")
        .attr("transform", "translate(" + p.left + ",0)")
        .call(yAxis);
    ya.selectAll("text")
        .attr("transform", "rotate(-90)")
        .attr("x", 0).attr("y", -13).attr("dy", 0)
        .attr("text-anchor", "middle");

    var xa = g.append("g")
        .attr("transform", "translate(0," + plotBottom + ")")
        .call(xAxis);
    xa.selectAll("text").attr("y", 12).attr("dy", "0.95em");

    g.selectAll(".domain, .tick line").attr("stroke", "#4a4a4a").attr("stroke-width", 1.2);
    g.selectAll(".tick text").attr("font-size", 17).attr("fill", "#1a1a1a")
        .style("font-family", "'Liberation Sans', Arial, sans-serif");

    //observations
    g.selectAll(".dataPoint").data(p.obs).enter().append("circle")
        .attr("class", "dataPoint")
        .attr("cx", function(d){ return x(d[0]); })
        .attr("cy", function(d){ return y(d[1]); })
        .attr("r", 2.5)
        .attr("fill", "none")
        .attr("stroke", markerColor)
        .attr("stroke-width", 1.35);

    //fitted line
    var line = d3.line().x(function(d){ return x(d[0]); }).y(function(d){ return y(d[1]); });
    g.append("path")
        .attr("d", line(p.fit))
        .attr("fill", "none")
        .attr("stroke", fitColor)
        .attr("stroke-width", 1.6);

    //title, two lines, drawn slightly wide like the original
    g.selectAll(".title").data(p.title).enter().append("text")
        .attr("class", "title")
        .attr("transform", function(d, i){ return "translate(" + cx + "," + (75 + i * 21) + ") scale(1.16,1)"; })
        .attr("text-anchor", "middle")
        .attr("font-size", 18)
        .text(function(d){ return d; });

    //y axis title
    var yt = g.append("text")
        .attr("transform", "translate(" + (p.left - 47) + ",410) rotate(-90)")
        .attr("text-anchor", "middle")
        .attr("font-size", 18)
        .style("white-space", "pre");
    yt.append("tspan").text("Log housing price,  ln ");
    yt.append("tspan").attr("font-style", "italic").text("P");
    yt.append("tspan").attr("font-style", "italic").attr("font-size", 10).attr("dy", 4).text("c,t");

    //x axis title
    var xt = g.append("text")
        .attr("x", p.xLabelX).attr("y", 769)
        .attr("text-anchor", "middle")
        .attr("font-size", 18)
        .style("white-space", "pre");
    xt.append("tspan").text("ln ");
    xt.append("tspan").attr("font-style", "italic").text("Relative Land Supply");
    xt.append("tspan").attr("font-style", "italic").attr("font-size", 10).attr("dy", 4).text(" c,t-1");
    if (p.eta) {
        xt.append("tspan").attr("dy", -4).text(p.eta === "c" ? " x  " : " x ");
        xt.append("tspan").attr("font-style", "italic").attr("font-size", 20).text("\u03B7");
        xt.append("tspan").attr("font-style", "italic").attr("font-size", 10).attr("dy", 4).text(" " + p.eta);
    }

    //legend
    var lg = g.append("g").attr("transform", "translate(" + p.legendX + ",786)");
    lg.append("rect")
        .attr("x", 0.5).attr("y", 0.5)
        .attr("width", 313).attr("height", 31)
        .attr("fill", "#ffffff")
        .attr("stroke", "#222").attr("stroke-width", 1);
    lg.append("circle")
        .attr("cx", 9).attr("cy", 15)
        .attr("r", 2.5)
        .attr("fill", "none").attr("stroke", markerColor).attr("stroke-width", 1.35);
    lg.append("text").attr("x", 27).attr("y", 22).attr("font-size", 17).text(legendLabels[0]);
    lg.append("line")
        .attr("x1", 163).attr("x2", 221).attr("y1", 15).attr("y2", 15)
        .attr("stroke", fitColor).attr("stroke-width", 1.6);
    lg.append("text").attr("x", 231).attr("y", 22).attr("font-size", 17).text(legendLabels[1]);
}

panels.forEach(drawPanel);
</script>
</body>
</html>
